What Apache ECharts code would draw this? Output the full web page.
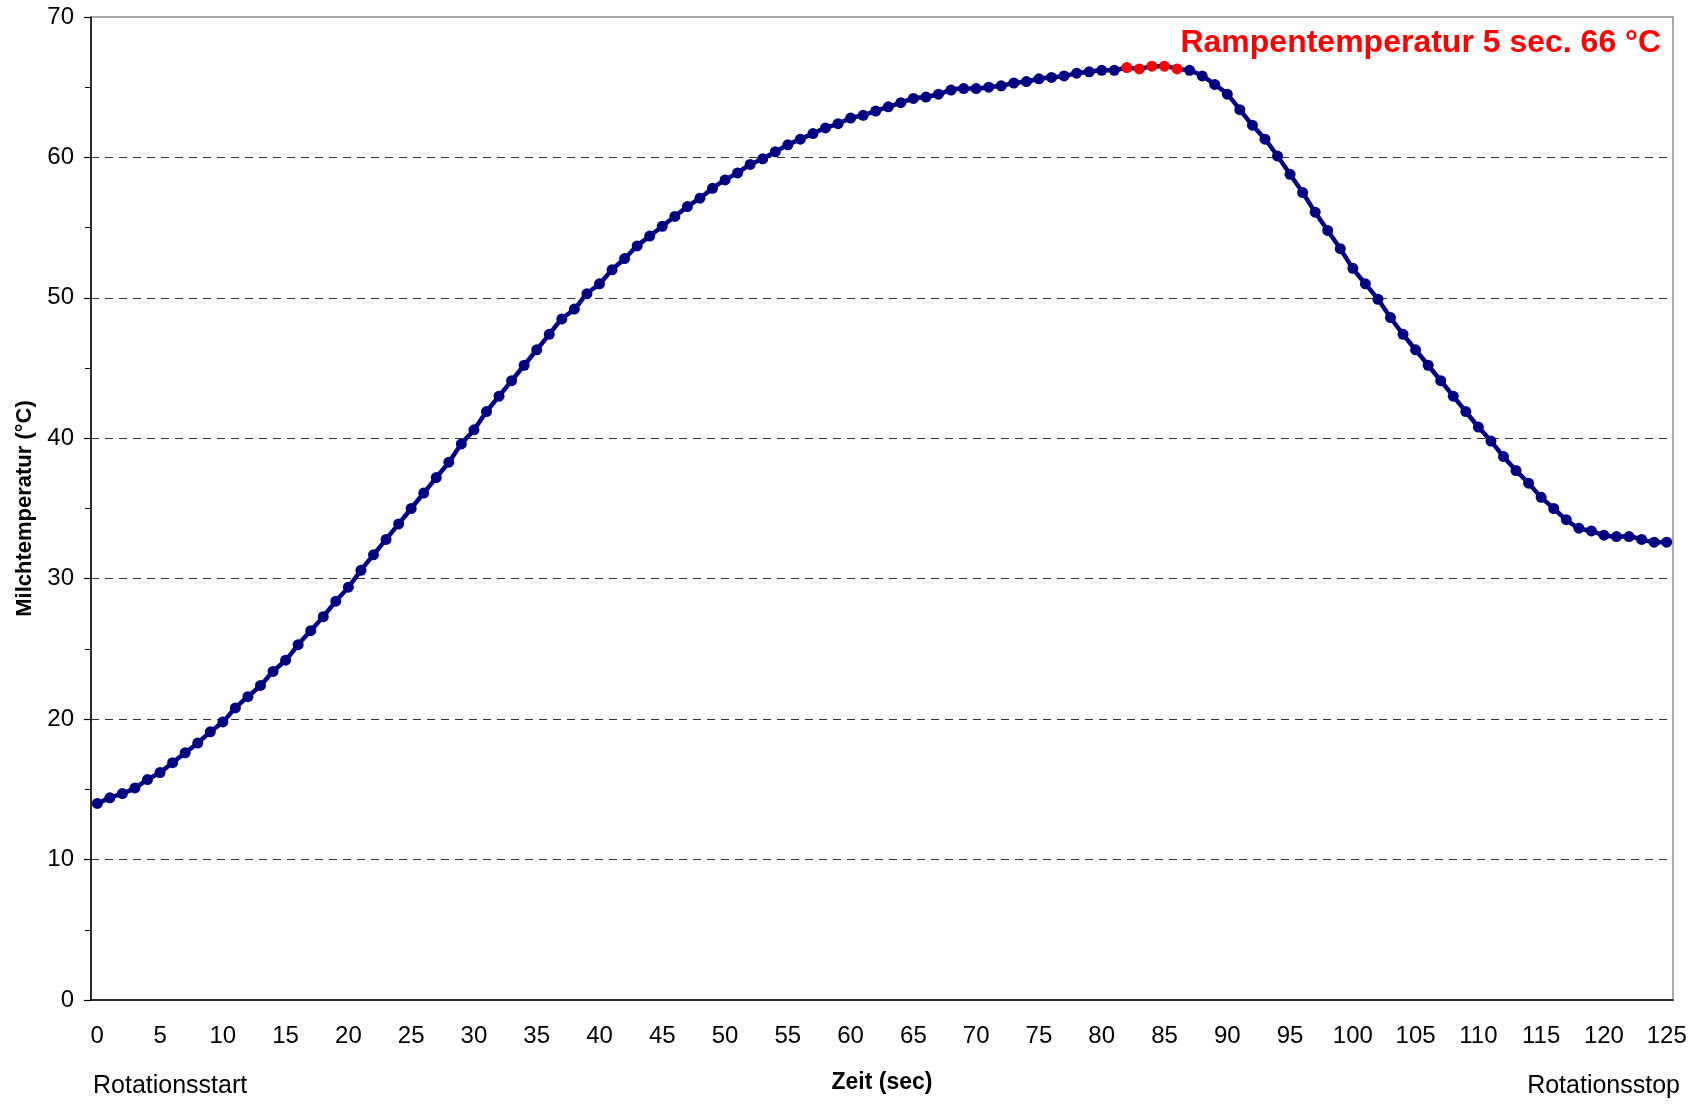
<!DOCTYPE html>
<html>
<head>
<meta charset="utf-8">
<title>Milchtemperatur</title>
<script src="https://cdn.jsdelivr.net/npm/echarts@6/dist/echarts.min.js"></script>
<style>
  html, body { margin: 0; padding: 0; background: #fff; }
  #chart_box { width: 1693px; height: 1104px; }
</style>
</head>
<body>
<div id="chart_box"></div>
<script>
// Zeit in Sekunden (Kategorien 0..125)
const timeList = Array.from({ length: 126 }, (_, i) => String(i));

// Milchtemperatur in °C, ein Wert pro Sekunde
const tempList = [
  14.0, 14.4, 14.7, 15.1, 15.7, 16.2, 16.9, 17.6, 18.3, 19.1,
  19.8, 20.8, 21.6, 22.4, 23.4, 24.2, 25.3, 26.3, 27.3, 28.4,
  29.4, 30.6, 31.7, 32.8, 33.9, 35.0, 36.1, 37.2, 38.3, 39.6,
  40.6, 41.9, 43.0, 44.1, 45.2, 46.3, 47.4, 48.5, 49.2, 50.3,
  51.0, 52.0, 52.8, 53.7, 54.4, 55.1, 55.8, 56.5, 57.1, 57.8,
  58.4, 58.9, 59.5, 59.9, 60.4, 60.9, 61.3, 61.7, 62.1, 62.4,
  62.8, 63.0, 63.3, 63.6, 63.9, 64.2, 64.3, 64.5, 64.8, 64.9,
  64.9, 65.0, 65.1, 65.3, 65.4, 65.6, 65.7, 65.8, 66.0, 66.1,
  66.2, 66.2, 66.4, 66.3, 66.5, 66.5, 66.3, 66.2, 65.8, 65.2,
  64.5, 63.4, 62.3, 61.3, 60.1, 58.8, 57.5, 56.1, 54.8, 53.5,
  52.1, 51.0, 49.9, 48.6, 47.4, 46.3, 45.2, 44.1, 43.0, 41.9,
  40.8, 39.8, 38.7, 37.7, 36.8, 35.8, 35.0, 34.2, 33.6, 33.4,
  33.1, 33.0, 33.0, 32.8, 32.6, 32.6
];

// Rampe: 5 sec. bei 66 °C (rot markiert)
const rampIndexList = [82, 83, 84, 85, 86];

const yTickLabels = [0, 10, 20, 30, 40, 50, 60, 70];

const navy = "#000080";
const red = "#ff0000";
const fontName = '"Liberation Sans", Arial, sans-serif';

const seriesData = tempList.map((v, i) => {
  if (rampIndexList.indexOf(i) !== -1) {
    return { value: v, itemStyle: { color: red } };
  }
  return v;
});

// Gitterlinien nur zwischen 0 und 70 sichtbar
const splitColors = yTickLabels.map((t, i) =>
  i === 0 || i === yTickLabels.length - 1 ? "rgba(0,0,0,0)" : "#333333"
);

const chartInstance = echarts.init(document.getElementById("chart_box"));

const initOption = {
  animation: false,
  backgroundColor: "#ffffff",
  textStyle: { fontFamily: fontName },
  grid: {
    left: 91,
    right: 20,
    top: 17,
    bottom: 104,
    show: true,
    borderColor: "#8c8c8c",
    borderWidth: 1.5,
    containLabel: false,
  },
  xAxis: {
    type: "category",
    data: timeList,
    boundaryGap: true,
    name: "Zeit (sec)",
    nameLocation: "middle",
    nameGap: 71,
    nameTextStyle: {
      fontSize: 23,
      fontWeight: "bold",
      color: "#000",
      fontFamily: fontName,
    },
    axisLine: { lineStyle: { color: "#000", width: 1.5 } },
    axisTick: {
      interval: 4,
      length: 7,
      lineStyle: { color: "#000", width: 1.2 },
    },
    axisLabel: {
      interval: 4,
      fontSize: 24,
      color: "#000",
      margin: 24,
      fontFamily: fontName,
    },
    splitLine: { show: false },
  },
  yAxis: {
    type: "value",
    min: 0,
    max: 70,
    interval: 10,
    name: "Milchtemperatur (°C)",
    nameLocation: "middle",
    nameGap: 53,
    nameTextStyle: {
      fontSize: 22,
      fontWeight: "bold",
      color: "#000",
      fontFamily: fontName,
    },
    axisLine: { show: true, lineStyle: { color: "#000", width: 1.5 } },
    axisTick: { show: true, length: 7, lineStyle: { color: "#000", width: 1.2 } },
    minorTick: {
      show: true,
      splitNumber: 2,
      length: 6,
      lineStyle: { color: "#000", width: 1 },
    },
    axisLabel: {
      fontSize: 24,
      color: "#000",
      margin: 17,
      fontFamily: fontName,
    },
    splitLine: {
      show: true,
      lineStyle: { color: splitColors, width: 1, type: [8, 6] },
    },
  },
  series: [
    {
      type: "line",
      data: seriesData,
      smooth: 0.3,
      symbol: "circle",
      symbolSize: 11,
      showAllSymbol: true,
      lineStyle: { color: navy, width: 4.5 },
      itemStyle: { color: navy },
      z: 3,
    },
  ],
  graphic: [
    {
      type: "text",
      x: 1661,
      y: 43,
      style: {
        text: "Rampentemperatur 5 sec. 66 °C",
        font: 'bold 32px "Liberation Sans", Arial, sans-serif',
        fill: red,
        align: "right",
        verticalAlign: "middle",
      },
    },
    {
      type: "text",
      x: 93,
      y: 1086,
      style: {
        text: "Rotationsstart",
        font: '25px "Liberation Sans", Arial, sans-serif',
        fill: "#000",
        align: "left",
        verticalAlign: "middle",
      },
    },
    {
      type: "text",
      x: 1680,
      y: 1086,
      style: {
        text: "Rotationsstop",
        font: '25px "Liberation Sans", Arial, sans-serif',
        fill: "#000",
        align: "right",
        verticalAlign: "middle",
      },
    },
  ],
};

chartInstance.setOption(initOption);
</script>
</body>
</html>
